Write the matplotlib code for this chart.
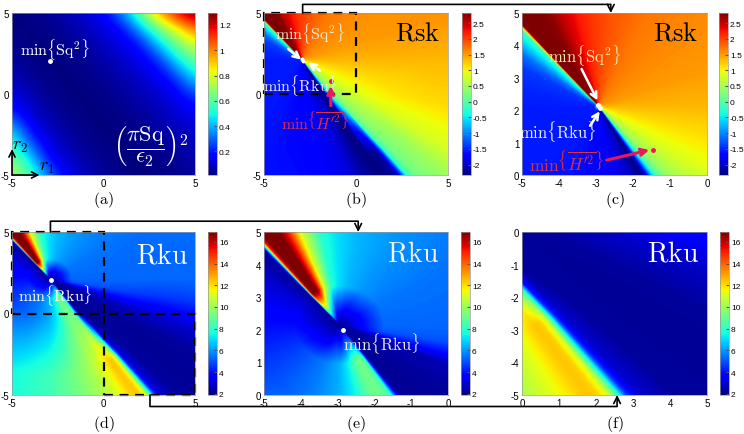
import numpy as np
import matplotlib.pyplot as plt
from matplotlib.patches import ConnectionPatch, Rectangle, ConnectionStyle
from matplotlib.tri import Triangulation, LinearTriInterpolator

plt.rcParams['font.family'] = ['Liberation Sans', 'DejaVu Sans']
plt.rcParams['mathtext.fontset'] = 'cm'
plt.rcParams['axes.unicode_minus'] = False

# ---------------------------------------------------------------------------
# (a) (pi Sq / eps2)^2 read on a 1x1 grid: columns r1 = -5..5, rows r2 = 5..-5
sq2_r = np.arange(-5, 6)
sq2 = np.array([
    [0.015, 0.023, 0.044, 0.075, 0.114, 0.160, 0.353, 0.64, 0.97, 1.20, 1.35],
    [0.019, 0.016, 0.027, 0.050, 0.082, 0.121, 0.167, 0.383, 0.636, 0.83, 1.03],
    [0.032, 0.016, 0.017, 0.031, 0.056, 0.088, 0.128, 0.184, 0.412, 0.634, 0.79],
    [0.054, 0.025, 0.015, 0.020, 0.036, 0.061, 0.095, 0.134, 0.212, 0.442, 0.63],
    [0.085, 0.043, 0.021, 0.015, 0.023, 0.041, 0.067, 0.101, 0.140, 0.24, 0.47],
    [0.126, 0.069, 0.034, 0.018, 0.016, 0.026, 0.046, 0.073, 0.107, 0.146, 0.27],
    [0.19, 0.100, 0.056, 0.027, 0.016, 0.017, 0.030, 0.051, 0.079, 0.113, 0.152],
    [0.40, 0.147, 0.085, 0.045, 0.022, 0.015, 0.020, 0.034, 0.056, 0.085, 0.119],
    [0.55, 0.27, 0.122, 0.070, 0.036, 0.019, 0.015, 0.022, 0.038, 0.061, 0.090],
    [0.65, 0.465, 0.168, 0.102, 0.057, 0.029, 0.017, 0.016, 0.025, 0.043, 0.066],
    [0.75, 0.575, 0.337, 0.141, 0.085, 0.046, 0.024, 0.015, 0.018, 0.029, 0.047],
])
sq2_lim = (0.014, 1.294)
sq2_ticks = [0.2, 0.4, 0.6, 0.8, 1.0, 1.2]

# ---------------------------------------------------------------------------
# Rsk and Rku depend mostly on the direction seen from the point where Sq^2
# is smallest; values read along rays (deg), close to it and far from it.
sk_center = (-2.93, 2.1)
sk_mid = 0.3
sk_rings = [0, 0.12, 3, 7, 15]
sk_angles = [0, 20, 45, 65, 83, 93, 100, 108, 115, 125, 129.5, 130.5, 131.5,
             134, 138, 142, 150, 165, 180, 200, 225, 250, 270, 285, 290, 295,
             298, 300, 302, 304, 306, 307.5, 308.5, 310, 312, 318, 325, 340, 360]
sk_near = [1.35, 1.5, 1.6, 1.7, 1.9, 2.05, 2.2, 2.45, 2.75, 2.88, 2.9, 0.8,
           -0.2, -0.4, -0.75, -1.1, -1.4, -1.5, -1.55, -1.55, -1.55, -1.6,
           -1.7, -1.85, -1.95, -2.1, -2.3, -2.2, -1.6, -0.8, -0.2, 0.05, 0.15,
           0.3, 0.45, 0.65, 0.85, 1.1, 1.35]
sk_far = [1.35, 1.55, 1.6, 1.7, 1.9, 2.05, 2.2, 2.45, 2.75, 2.88, 2.9, 0.8,
          -0.2, -0.4, -0.75, -1.1, -1.4, -1.5, -1.55, -1.6, -1.6, -1.6, -1.65,
          -1.8, -1.9, -2.15, -2.25, -2.3, -2.3, -2.25, -2.1, -1.2, -0.3, 0.05,
          0.25, 0.45, 0.8, 1.15, 1.35]
sk_lim = (-2.33, 2.82)
sk_ticks = [-2, -1.5, -1, -0.5, 0, 0.5, 1, 1.5, 2, 2.5]

ku_center = (-2.95, 2.15)
ku_mid = 2.2
ku_rings = [0, 1.2, 2.5, 6, 15]
ku_angles = [0, 30, 60, 80, 90, 100, 104, 110, 113, 116, 120, 127, 129, 130,
             131, 132, 135, 145, 165, 184, 205, 226, 250, 270, 282, 288, 292,
             296, 299, 302, 303.5, 305, 306.5, 308, 309, 310.5, 315, 324, 330,
             338, 344, 350, 355, 360]
ku_near = [5.3, 5.5, 6.0, 6.5, 7.0, 7.8, 9.0, 11, 13, 15, 17, 17, 15, 9, 4.5,
           2.4, 2.4, 3.0, 3.6, 4.0, 4.5, 5.0, 5.6, 6.4, 7.5, 8.5, 9.0, 9.2,
           9.0, 8.5, 7.5, 5.0, 2.8, 2.3, 2.2, 2.2, 2.2, 2.3, 2.4, 2.6, 4.0,
           5.0, 5.2, 5.3]
ku_far = [5.3, 5.4, 5.8, 6.3, 6.8, 7.8, 9.0, 11, 13, 15, 17, 17, 15, 9, 4.5,
          2.4, 2.5, 3.2, 4.2, 5.2, 6.0, 6.8, 7.5, 8.3, 9.2, 9.8, 10.2, 10.9,
          11.5, 12.2, 12.4, 12.2, 11.0, 7.5, 4.5, 3.0, 2.3, 2.2, 2.3, 2.9,
          3.8, 4.6, 5.0, 5.3]
ku_lim = (1.9, 16.9)
ku_ticks = [2, 4, 6, 8, 10, 12, 14, 16]

W, H = 744, 435
fig = plt.figure(figsize=(W / 100, H / 100), dpi=100)


def box(left, top, width, height):
    return [left / W, 1 - (top + height) / H, width / W, height / H]


def fan(ax, center, angles, near, far, rings, mid, lim, xlim, ylim, n=400):
    # readings on an (angle, radius) grid, interpolated by matplotlib.tri
    T, R = np.meshgrid(angles, rings)
    C = np.vstack([np.full(len(angles), mid), near, near, far, far])
    field = LinearTriInterpolator(Triangulation(T.ravel(), R.ravel()),
                                  C.ravel())
    gx, gy = np.meshgrid(np.linspace(xlim[0], xlim[1], n),
                         np.linspace(ylim[0], ylim[1], n))
    dx, dy = gx - center[0], gy - center[1]
    Z = field(np.degrees(np.arctan2(dy, dx)) % 360, np.hypot(dx, dy))
    return ax.imshow(Z, extent=(xlim[0], xlim[1], ylim[0], ylim[1]),
                     origin='lower', cmap='jet', vmin=lim[0], vmax=lim[1],
                     aspect='auto', interpolation='bilinear')


def setup(ax, xlim, ylim, xt, yt):
    ax.set_xlim(xlim)
    ax.set_ylim(ylim)
    ax.set_xticks(xt)
    ax.set_yticks(yt)
    ax.tick_params(length=0, labelsize=7, pad=2)
    for s in ax.spines.values():
        s.set_linewidth(0.5)
        s.set_color('#999999')


def cbar(mappable, pos, ticks):
    cax = fig.add_axes(pos)
    cb = fig.colorbar(mappable, cax=cax, ticks=ticks)
    cb.set_ticklabels(['%g' % t for t in ticks])
    cb.ax.tick_params(labelsize=6, length=2, direction='in', pad=1.5,
                      color='#555555')
    cb.outline.set_linewidth(0.5)
    cb.outline.set_edgecolor('#999999')
    return cb


def arrow(ax, start, end, color, lw=1.8):
    ax.annotate('', xy=end, xytext=start, annotation_clip=False,
                arrowprops=dict(arrowstyle='->', color=color, lw=lw,
                                shrinkA=0, shrinkB=0, mutation_scale=11))


def label(ax, txt, dy):
    ax.text(0.5, dy, txt, transform=ax.transAxes, ha='center', va='center',
            fontsize=11.5)


row1, row2 = 14, 233
ax_a = fig.add_axes(box(12, row1, 183, 162))
ax_b = fig.add_axes(box(264, row1, 184, 162))
ax_c = fig.add_axes(box(522, row1, 185, 162))
ax_d = fig.add_axes(box(12, row2, 183, 163))
ax_e = fig.add_axes(box(264, row2, 184, 163))
ax_f = fig.add_axes(box(522, row2, 185, 163))

full = [-5, 0, 5]
big = ((-5, 5), (-5, 5))
up_left = ((-5, 0), (0, 5))
low_right = ((0, 5), (-5, 0))

# (a)
im_a = ax_a.imshow(sq2, cmap='jet', vmin=sq2_lim[0], vmax=sq2_lim[1],
                   extent=(sq2_r[0] - 0.5, sq2_r[-1] + 0.5,
                           sq2_r[0] - 0.5, sq2_r[-1] + 0.5),
                   origin='upper', interpolation='bicubic', aspect='auto')
setup(ax_a, (-5, 5), (-5, 5), full, full)
cbar(im_a, box(208, row1, 9, 162), sq2_ticks)
ax_a.plot(-2.92, 2.06, 'o', ms=2.5, color='w')
ax_a.text(-2.65, 2.82, r'$\min\{\mathrm{Sq}^2\}$', color='w', fontsize=11.5,
          ha='center', va='center')
ax_a.text(2.6, -3.15, r'$\left(\dfrac{\pi\mathrm{Sq}}{\epsilon_2}\right)^2$',
          color='w', fontsize=16, ha='center', va='center')
arrow(ax_a, (-5, -5), (-5, -3.4), 'k', 1.2)
arrow(ax_a, (-5, -5), (-3.5, -5), 'k', 1.2)
ax_a.text(-4.55, -3.15, r'$r_2$', fontsize=13, ha='center', va='center')
ax_a.text(-3.1, -4.5, r'$r_1$', fontsize=13, ha='center', va='center')
label(ax_a, r'$\mathrm{(a)}$', -0.148)

# (b) and (c): Rsk
pale = '#f0ecd0'
red_txt = '#e0303a'
red_arr = '#e8185a'
m_b = fan(ax_b, sk_center, sk_angles, sk_near, sk_far, sk_rings, sk_mid,
          sk_lim, *big)
m_c = fan(ax_c, sk_center, sk_angles, sk_near, sk_far, sk_rings, sk_mid,
          sk_lim, *up_left)
setup(ax_b, (-5, 5), (-5, 5), full, full)
setup(ax_c, (-5, 0), (0, 5), range(-5, 1), range(0, 6))
cbar(m_b, box(462, row1, 9, 162), sk_ticks)
cbar(m_c, box(719, row1, 9, 162), sk_ticks)

ax_b.text(3.37, 3.8, r'$\mathrm{Rsk}$', fontsize=19, ha='center', va='center')
ax_b.add_patch(Rectangle((-5, 0), 5, 5, fill=False, ec='k', lw=1.6,
                         ls=(0, (4, 3)), clip_on=False))
ax_b.text(-2.5, 3.8, r'$\min\{\mathrm{Sq}^2\}$', color=pale, fontsize=11.5,
          ha='center', va='center')
arrow(ax_b, (-3.68, 2.78), (-2.98, 2.12), 'w')
ax_b.text(-3.05, 0.56, r'$\min\{\mathrm{Rku}\}$', color=pale, fontsize=11.5,
          ha='center', va='center')
arrow(ax_b, (-1.96, 1.44), (-2.6, 1.95), 'w')
ax_b.plot([-2.94, -2.88], [2.16, 2.06], 'o', ms=1.8, color='w')
ax_b.plot(-1.37, 0.82, 'o', ms=2.5, color=red_arr)
arrow(ax_b, (-1.37, -0.72), (-1.37, 0.5), red_arr, 2.2)
ax_b.text(-2.23, -1.65, r'$\min\left\{\overline{H^{\prime 2}}\right\}$',
          color=red_txt, fontsize=11.5, ha='center', va='center')
label(ax_b, r'$\mathrm{(b)}$', -0.148)

ax_c.text(-0.86, 4.4, r'$\mathrm{Rsk}$', fontsize=19, ha='center', va='center')
ax_c.text(-3.3, 3.73, r'$\min\{\mathrm{Sq}^2\}$', color='#eee8a0',
          fontsize=12, ha='center', va='center')
arrow(ax_c, (-3.39, 3.27), (-2.96, 2.3), 'w')
ax_c.plot([-2.94, -2.88], [2.16, 2.06], 'o', ms=2.5, color='w')
ax_c.text(-4.02, 1.37, r'$\min\{\mathrm{Rku}\}$', color='#e8eef5',
          fontsize=12, ha='center', va='center')
arrow(ax_c, (-3.16, 1.52), (-2.9, 1.97), 'w')
ax_c.text(-3.8, 0.44, r'$\min\left\{\overline{H^{\prime 2}}\right\}$',
          color=red_txt, fontsize=12.5, ha='center', va='center')
arrow(ax_c, (-2.71, 0.46), (-1.56, 0.77), red_arr, 2.2)
ax_c.plot(-1.45, 0.78, 'o', ms=2.5, color=red_arr)
label(ax_c, r'$\mathrm{(c)}$', -0.148)

# (d), (e), (f): Rku
views = [(ax_d, big), (ax_e, up_left), (ax_f, low_right)]
for ax, lims in views:
    m = fan(ax, ku_center, ku_angles, ku_near, ku_far, ku_rings, ku_mid,
            ku_lim, *lims)
    setup(ax, lims[0], lims[1],
          full if ax is ax_d else range(lims[0][0], lims[0][1] + 1),
          full if ax is ax_d else range(lims[1][0], lims[1][1] + 1))
    pos = ax.get_position()
    cbar(m, [pos.x0 + 13 / W + pos.width, pos.y0, 9 / W, pos.height],
         ku_ticks)

ax_d.text(3.18, 3.57, r'$\mathrm{Rku}$', color='w', fontsize=20,
          ha='center', va='center')
ax_d.plot(-2.87, 2.03, 'o', ms=2.5, color='w')
ax_d.text(-2.65, 1.15, r'$\min\{\mathrm{Rku}\}$', color='w', fontsize=11.5,
          ha='center', va='center')
for corner in [(-5, 0), (0, -5)]:
    ax_d.add_patch(Rectangle(corner, 5, 5, fill=False, ec='k', lw=1.6,
                             ls=(0, (4, 3)), clip_on=False))
label(ax_d, r'$\mathrm{(d)}$', -0.17)

ax_e.text(-0.95, 4.33, r'$\mathrm{Rku}$', color='#f4f2e0', fontsize=20,
          ha='center', va='center')
ax_e.plot(-2.85, 1.98, 'o', ms=2.5, color='w')
ax_e.text(-1.81, 1.62, r'$\min\{\mathrm{Rku}\}$', color='#ece8d8',
          fontsize=12, ha='center', va='center')
label(ax_e, r'$\mathrm{(e)}$', -0.17)

ax_f.text(4.07, -0.65, r'$\mathrm{Rku}$', color='w', fontsize=20,
          ha='center', va='center')
label(ax_f, r'$\mathrm{(f)}$', -0.17)

# zoom connectors
links = [
    (ax_b, (-2.9, 5), ax_c, (-2.6, 5), 90, 8.6),
    (ax_d, (-2.9, 5), ax_e, (-2.44, 5), 90, 10.8),
    (ax_d, (2.54, -5), ax_f, (2.57, -5), -90, 11.5),
]
for axA, pA, axB, pB, ang, arm in links:
    con = ConnectionPatch(xyA=pA, coordsA=axA.transData,
                          xyB=pB, coordsB=axB.transData,
                          connectionstyle=ConnectionStyle.Arc(
                              angleA=ang, angleB=ang, armA=arm, armB=arm,
                              rad=0),
                          arrowstyle='->', color='k', lw=1.2,
                          shrinkA=0, shrinkB=0, mutation_scale=12)
    fig.add_artist(con)

fig.savefig('out.png', dpi=100)
